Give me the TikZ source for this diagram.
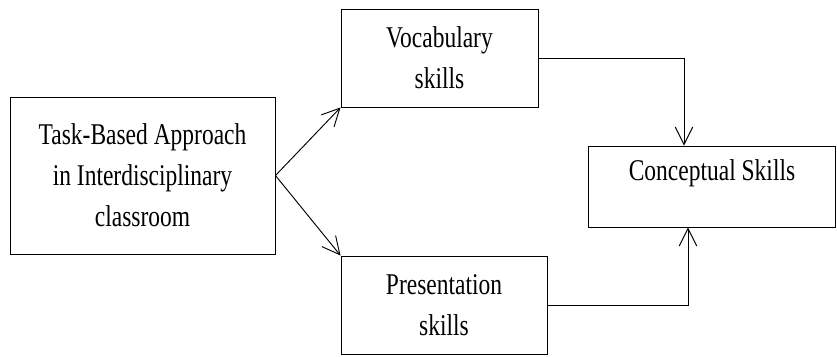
\documentclass[tikz,border=0pt]{standalone}
\usepackage{fontspec}
\setmainfont{Liberation Serif}[FakeStretch=0.78]
\usetikzlibrary{arrows.meta}

\begin{document}
\begin{tikzpicture}[x=0.03cm, y=-0.03cm,
		box/.style={draw, line width=0.8pt, align=center, inner sep=0pt},
		link/.style={line width=0.8pt, -{Straight Barb[length=15pt, width=15pt, line width=0.8pt]}},
		font=\fontsize{25.7}{35}\selectfont]
		% Rammen
		\useasboundingbox (0,0) rectangle (837,356);

		% Boksene
		\node[box, minimum width=7.95cm, minimum height=4.71cm] (task) at (142.5,175.5) {Task-Based Approach\\in Interdisciplinary\\classroom};
		\node[box, minimum width=5.91cm, minimum height=2.94cm] (vocab) at (439.5,58) {Vocabulary\\skills};
		\node[box, minimum width=6.18cm, minimum height=2.94cm] (present) at (444,305) {Presentation\\skills};
		\node[box, minimum width=7.4cm, minimum height=2.43cm, text depth=28pt] (concept) at (712,186.5) {Conceptual Skills};

		% Piler fra venstre boks
		\draw[link] (task.east) -- (vocab.south west);
		\draw[link] (task.east) -- (present.north west);

		% Piler inn i Conceptual Skills
		\coordinate (vin) at ([xshift=-0.84cm]concept.north);
		\coordinate (pin) at ([xshift=-0.72cm]concept.south);
		\draw[link] (vocab.east) -| (vin);
		\draw[link] (present.east) -| (pin);
	\end{tikzpicture}
\end{document}
